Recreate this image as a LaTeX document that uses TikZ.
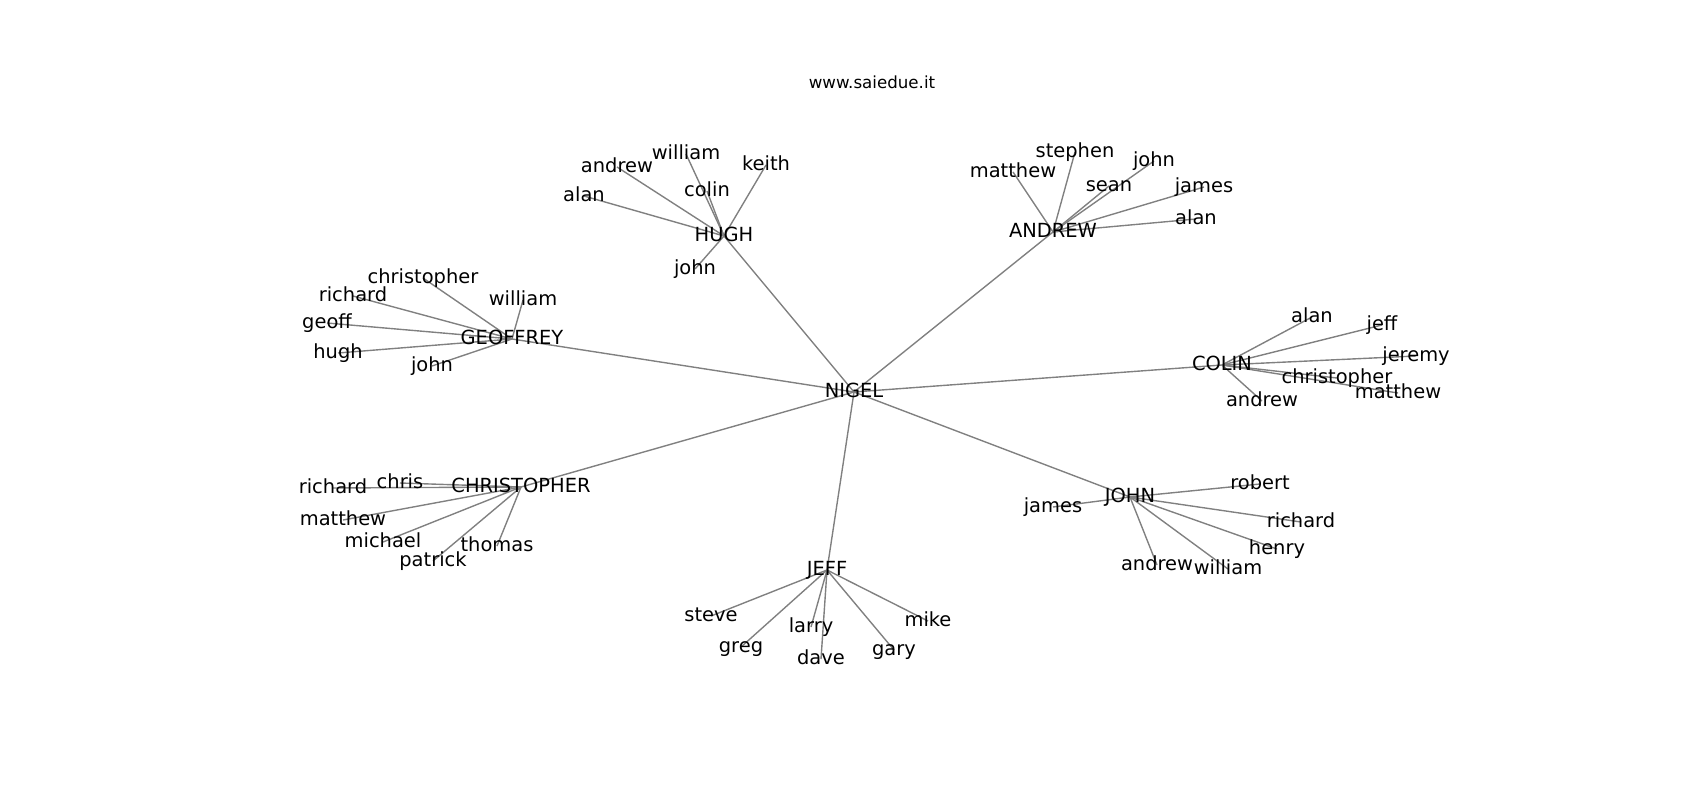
\documentclass[tikz,border=0pt]{standalone}
\usepackage{fontspec}
\setmainfont{DejaVu Sans}
\usetikzlibrary{backgrounds}
\tikzset{
  lbl/.style={inner sep=0pt, outer sep=0pt, text height=10.64pt, text depth=3.36pt, font=\fontsize{14}{16}\selectfont, text=black},
  ttl/.style={inner sep=0pt, outer sep=0pt, text height=9.12pt, text depth=2.88pt, font=\fontsize{12}{14}\selectfont, text=black},
  edge/.style={draw=black!50, line width=1pt}
}
\begin{document}
\begin{tikzpicture}[x=0.72pt,y=-0.72pt]
\useasboundingbox (0,0) rectangle (1700,800);
\node[ttl] (title) at (872,84) {www.saiedue.it};
\begin{scope}[shift={(0,-1)}]
\node[lbl] (nigel) at (854,393) {NIGEL};
% HUGH
\node[lbl] (hugh) at (724,237) {HUGH};
\node[lbl] (hugh-alan) at (584,197) {alan};
\node[lbl] (hugh-andrew) at (617,168) {andrew};
\node[lbl] (hugh-william) at (686,155) {william};
\node[lbl] (hugh-colin) at (707,192) {colin};
\node[lbl] (hugh-keith) at (766,166) {keith};
\node[lbl] (hugh-john) at (695,270) {john};
% ANDREW
\node[lbl] (andrew) at (1053,233) {ANDREW};
\node[lbl] (andrew-matthew) at (1013,173) {matthew};
\node[lbl] (andrew-stephen) at (1075,153) {stephen};
\node[lbl] (andrew-sean) at (1109,187) {sean};
\node[lbl] (andrew-john) at (1154,162) {john};
\node[lbl] (andrew-james) at (1204,188) {james};
\node[lbl] (andrew-alan) at (1196,220) {alan};
% GEOFFREY
\node[lbl] (geoffrey) at (512,340) {GEOFFREY};
\node[lbl] (geoffrey-christopher) at (423,279) {christopher};
\node[lbl] (geoffrey-richard) at (353,297) {richard};
\node[lbl] (geoffrey-geoff) at (327,324) {geoff};
\node[lbl] (geoffrey-hugh) at (338,354) {hugh};
\node[lbl] (geoffrey-william) at (523,301) {william};
\node[lbl] (geoffrey-john) at (432,367) {john};
% COLIN
\node[lbl] (colin) at (1222,366) {COLIN};
\node[lbl] (colin-alan) at (1312,318) {alan};
\node[lbl] (colin-jeff) at (1382,326) {jeff};
\node[lbl] (colin-jeremy) at (1416,357) {jeremy};
\node[lbl] (colin-christopher) at (1337,379) {christopher};
\node[lbl] (colin-matthew) at (1398,394) {matthew};
\node[lbl] (colin-andrew) at (1262,402) {andrew};
% CHRISTOPHER
\node[lbl] (christopher) at (521,488) {CHRISTOPHER};
\node[lbl] (christopher-chris) at (400,484) {chris};
\node[lbl] (christopher-richard) at (333,489) {richard};
\node[lbl] (christopher-matthew) at (343,521) {matthew};
\node[lbl] (christopher-michael) at (383,543) {michael};
\node[lbl] (christopher-patrick) at (433,562) {patrick};
\node[lbl] (christopher-thomas) at (497,547) {thomas};
% JEFF
\node[lbl] (jeff) at (827,571) {JEFF};
\node[lbl] (jeff-steve) at (711,617) {steve};
\node[lbl] (jeff-greg) at (741,648) {greg};
\node[lbl] (jeff-larry) at (811,628) {larry};
\node[lbl] (jeff-dave) at (821,660) {dave};
\node[lbl] (jeff-gary) at (894,651) {gary};
\node[lbl] (jeff-mike) at (928,622) {mike};
% JOHN
\node[lbl] (john) at (1130,498) {JOHN};
\node[lbl] (john-james) at (1053,508) {james};
\node[lbl] (john-robert) at (1260,485) {robert};
\node[lbl] (john-richard) at (1301,523) {richard};
\node[lbl] (john-henry) at (1277,550) {henry};
\node[lbl] (john-andrew) at (1157,566) {andrew};
\node[lbl] (john-william) at (1228,570) {william};
\end{scope}
\begin{scope}[on background layer]
\foreach \h in {hugh,andrew,geoffrey,colin,christopher,jeff,john}
  \draw[edge] (nigel.center) -- (\h.center);
\foreach \l in {alan,andrew,william,colin,keith,john}
  \draw[edge] (hugh.center) -- (hugh-\l.center);
\foreach \l in {matthew,stephen,sean,john,james,alan}
  \draw[edge] (andrew.center) -- (andrew-\l.center);
\foreach \l in {christopher,richard,geoff,hugh,william,john}
  \draw[edge] (geoffrey.center) -- (geoffrey-\l.center);
\foreach \l in {alan,jeff,jeremy,christopher,matthew,andrew}
  \draw[edge] (colin.center) -- (colin-\l.center);
\foreach \l in {chris,richard,matthew,michael,patrick,thomas}
  \draw[edge] (christopher.center) -- (christopher-\l.center);
\foreach \l in {steve,greg,larry,dave,gary,mike}
  \draw[edge] (jeff.center) -- (jeff-\l.center);
\foreach \l in {james,robert,richard,henry,andrew,william}
  \draw[edge] (john.center) -- (john-\l.center);
\end{scope}
\end{tikzpicture}
\end{document}
